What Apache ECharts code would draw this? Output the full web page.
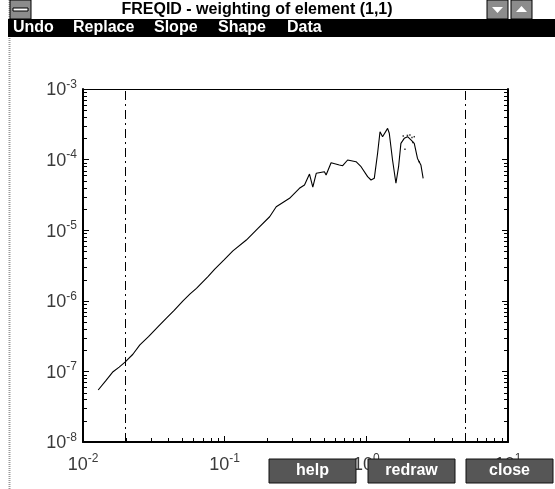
<!DOCTYPE html>
<html><head><meta charset="utf-8">
<script src="https://cdn.jsdelivr.net/npm/echarts@6/dist/echarts.min.js"></script>
<style>html,body{margin:0;padding:0;background:#fff;}#c{width:555px;height:489px;}</style>
</head><body><div id="c"></div>
<script>
// ---- data ----
const freq = [0.0128,0.0145,0.0163,0.0180,0.0198,0.0225,0.0252,0.0290,0.0339,0.0388,0.0440,0.0508,0.0570,0.0632,0.0762,0.0851,0.0990,0.1143,0.1422,0.1718,0.2077,0.2312,0.2870,0.3370,0.3660,0.3970,0.4190,0.4430,0.5060,0.5200,0.5640,0.6450,0.6810,0.7380,0.8460,0.9180,1.021,1.079,1.138,1.201,1.249,1.302,1.413,1.452,1.531,1.618,1.689,1.754,1.852,1.954,2.065,2.179,2.297,2.427,2.518];
const mag  = [5.45e-8,7.4e-8,9.9e-8,1.15e-7,1.35e-7,1.75e-7,2.37e-7,3.1e-7,4.3e-7,5.7e-7,7.3e-7,1.0e-6,1.25e-6,1.5e-6,2.2e-6,2.8e-6,3.8e-6,5.1e-6,7.26e-6,1.06e-5,1.55e-5,2.15e-5,2.83e-5,3.92e-5,4.37e-5,6.25e-5,4.06e-5,6.4e-5,6.74e-5,6.05e-5,9.04e-5,8.4e-5,8.2e-5,9.87e-5,9.33e-5,7.93e-5,5.73e-5,5.14e-5,5.43e-5,1.23e-4,2.48e-4,2.11e-4,2.77e-4,2.36e-4,9.87e-5,4.62e-5,7.93e-5,1.70e-4,2.0e-4,2.11e-4,1.9e-4,1.7e-4,1.04e-4,8.4e-5,5.43e-5];
const noiseFreq = [1.822,2.031,2.18,1.873,2.36,1.95,2.10,2.13];
const noiseMag  = [2.16e-4,2.23e-4,2.11e-4,1.40e-4,9.33e-5,2.2e-4,2.05e-4,1.75e-4];
const markerFreqs = [0.02, 5];
const xRange = [0.01, 10];
const yRange = [1e-8, 1e-3];
const minorMultipliers = [2,3,4,5,6,7,8,9];
const windowTitle = 'FREQID - weighting of element (1,1)';
const menuItems = ['Undo','Replace','Slope','Shape','Data'];
const buttonLabels = ['help','redraw','close'];

// ---- minor ticks (axis decoration) ----
function minorTicks(lo, hi){
  const out = [];
  for (let e = Math.round(Math.log10(lo)); e < Math.round(Math.log10(hi)); e++){
    minorMultipliers.forEach(m => out.push(m * Math.pow(10, e)));
  }
  return out;
}
const yMinor = minorTicks(yRange[0], yRange[1]);
const xMinor = minorTicks(xRange[0], xRange[1]);

const FONT = '"Liberation Sans", Arial, sans-serif';
function expLabel(v){
  const e = Math.round(Math.log10(v));
  return '{b|10}{s|' + e + '}';
}
const richLab = {
  b: {fontSize: 18, fontFamily: FONT, color: '#3a3a3a', verticalAlign: 'bottom'},
  s: {fontSize: 12, fontFamily: FONT, color: '#3a3a3a', padding: [0,0,9,0], verticalAlign: 'bottom'}
};

const chart = echarts.init(document.getElementById('c'), null, {renderer: 'canvas'});

const menuX = [13, 73, 154, 218, 287];
const btnX = [269, 368, 466];

const graphics = [];
// left window border
graphics.push({type:'line', z:100, shape:{x1:9.5,y1:0,x2:9.5,y2:489}, style:{stroke:'#9a9a9a', lineWidth:2, lineDash:[1,1]}});
// title bar system box
graphics.push({type:'rect', z:100, shape:{x:10,y:0,width:21,height:19}, style:{fill:'#8c8c8c', stroke:'#000', lineWidth:1}});
graphics.push({type:'rect', z:101, shape:{x:13,y:8,width:15,height:3}, style:{fill:'#fff', stroke:'#000', lineWidth:1}});
// title
graphics.push({type:'text', z:100, x:257, y:10, style:{text:windowTitle, font:'bold 16px ' + FONT, fill:'#000', align:'center', verticalAlign:'middle'}});
// right caption buttons
graphics.push({type:'rect', z:100, shape:{x:487,y:0,width:21,height:19}, style:{fill:'#8c8c8c', stroke:'#000', lineWidth:1}});
graphics.push({type:'polygon', z:101, shape:{points:[[492,7],[503,7],[497.5,13]]}, style:{fill:'#fff'}});
graphics.push({type:'rect', z:100, shape:{x:511,y:0,width:21,height:19}, style:{fill:'#8c8c8c', stroke:'#000', lineWidth:1}});
graphics.push({type:'polygon', z:101, shape:{points:[[516,12],[527,12],[521.5,6]]}, style:{fill:'#fff'}});
// menu bar
graphics.push({type:'rect', z:100, shape:{x:8,y:19,width:547,height:18}, style:{fill:'#000'}});
menuItems.forEach((m,i) => {
  graphics.push({type:'text', z:101, x:menuX[i], y:28, style:{text:m, font:'bold 16px ' + FONT, fill:'#fff', align:'left', verticalAlign:'middle'}});
});
// bottom buttons
buttonLabels.forEach((b,i) => {
  graphics.push({type:'rect', z:100, shape:{x:btnX[i], y:459, width:87, height:24}, style:{fill:'#565656', stroke:'#111', lineWidth:1}});
  graphics.push({type:'text', z:101, x:btnX[i] + 43.5, y:471, style:{text:b, font:'bold 16px ' + FONT, fill:'#fff', align:'center', verticalAlign:'middle'}});
});

const option = {
  animation: false,
  backgroundColor: '#fff',
  grid: {left: 83, right: 47, top: 89, bottom: 47, containLabel: false},
  xAxis: [{
    type: 'log', logBase: 10, min: xRange[0], max: xRange[1], position: 'bottom',
    axisLine: {show: true, lineStyle: {color: '#000', width: 2}},
    axisTick: {show: true, inside: true, length: 6, lineStyle: {color: '#000'}},
    splitLine: {show: false}, minorTick: {show: false},
    axisLabel: {formatter: expLabel, rich: richLab, margin: 11}
  }, {
    type: 'log', logBase: 10, min: xRange[0], max: xRange[1], position: 'top',
    axisLine: {show: true, lineStyle: {color: '#000', width: 1}},
    axisTick: {show: false}, axisLabel: {show: false}, splitLine: {show: false}
  }],
  yAxis: [{
    type: 'log', logBase: 10, min: yRange[0], max: yRange[1], position: 'left',
    axisLine: {show: true, lineStyle: {color: '#000', width: 2}},
    axisTick: {show: true, inside: true, length: 6, lineStyle: {color: '#000'}},
    splitLine: {show: false},
    axisLabel: {formatter: expLabel, rich: richLab, margin: 6}
  }, {
    type: 'log', logBase: 10, min: yRange[0], max: yRange[1], position: 'right',
    axisLine: {show: true, lineStyle: {color: '#000', width: 2}},
    axisTick: {show: true, inside: true, length: 6, lineStyle: {color: '#000'}},
    axisLabel: {show: false}, splitLine: {show: false}
  }],
  series: [
    {
      type: 'line', data: freq.map((f,i) => [f, mag[i]]), showSymbol: false, symbol: 'none',
      lineStyle: {color: '#000', width: 1.1}, silent: true,
      markLine: {symbol: 'none', silent: true, label: {show: false},
        lineStyle: {color: '#000', width: 1, type: [9,4,2,4]},
        data: markerFreqs.map(f => ({xAxis: f}))}
    },
    {
      type: 'scatter', data: noiseFreq.map((f,i) => [f, noiseMag[i]]), symbol: 'rect', symbolSize: 1.5,
      itemStyle: {color: '#000'}, silent: true
    },
    {
      type: 'custom', silent: true, data: yMinor.map(v => [xRange[0], v]),
      renderItem: function(params, api){
        const cs = params.coordSys;
        const p = api.coord([api.value(0), api.value(1)]);
        const y = Math.round(p[1]) + 0.5;
        return {type: 'group', children: [
          {type: 'line', shape: {x1: cs.x, y1: y, x2: cs.x + 4, y2: y}, style: {stroke: '#000', lineWidth: 1}},
          {type: 'line', shape: {x1: cs.x + cs.width - 4, y1: y, x2: cs.x + cs.width, y2: y}, style: {stroke: '#000', lineWidth: 1}}
        ]};
      }
    },
    {
      type: 'custom', silent: true, data: xMinor.map(v => [v, yRange[0]]),
      renderItem: function(params, api){
        const cs = params.coordSys;
        const p = api.coord([api.value(0), api.value(1)]);
        const x = Math.round(p[0]) + 0.5;
        return {type: 'line', shape: {x1: x, y1: cs.y + cs.height, x2: x, y2: cs.y + cs.height - 4}, style: {stroke: '#000', lineWidth: 1}};
      }
    }
  ],
  graphic: graphics
};
chart.setOption(option);
</script>
</body></html>
